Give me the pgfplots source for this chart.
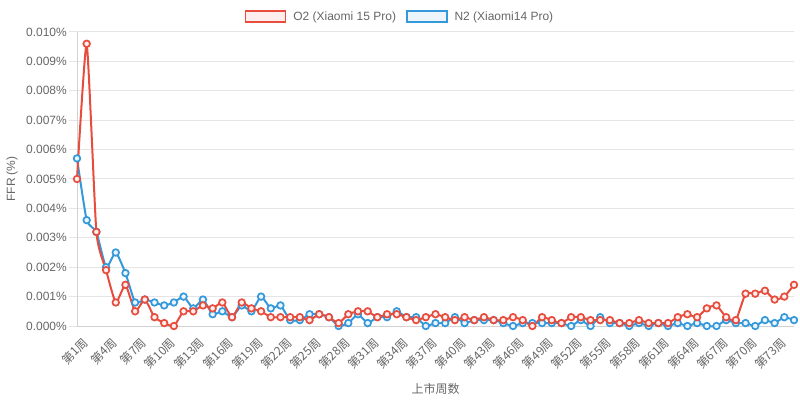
\documentclass[border=0pt]{standalone}
\usepackage{fontspec}
\setmainfont{Liberation Sans}
\newfontfamily\cjk{Noto Sans CJK SC}
\usepackage{pgfplots}
\pgfplotsset{compat=1.18}
\usepackage{pgfplotstable}
\definecolor{cred}{RGB}{231,76,60}
\definecolor{cblue}{RGB}{52,152,219}
\definecolor{predfill}{RGB}{253,237,236}
\definecolor{pbluefill}{RGB}{235,245,251}
\definecolor{gridgray}{RGB}{229,229,229}
\definecolor{axisgray}{RGB}{210,210,210}
\definecolor{txtgray}{RGB}{102,102,102}
\pgfplotstableread{
w o n
1 0.0050 0.0057
2 0.0096 0.0036
3 0.0032 0.0032
4 0.0019 0.0020
5 0.0008 0.0025
6 0.0014 0.0018
7 0.0005 0.0008
8 0.0009 0.0009
9 0.0003 0.0008
10 0.0001 0.0007
11 0.0000 0.0008
12 0.0005 0.0010
13 0.0005 0.0006
14 0.0007 0.0009
15 0.0006 0.0004
16 0.0008 0.0005
17 0.0003 0.0003
18 0.0008 0.0007
19 0.0006 0.0005
20 0.0005 0.0010
21 0.0003 0.0006
22 0.0003 0.0007
23 0.0003 0.0002
24 0.0003 0.0002
25 0.0002 0.0004
26 0.0004 0.0004
27 0.0003 0.0003
28 0.0001 0.0000
29 0.0004 0.0001
30 0.0005 0.0004
31 0.0005 0.0001
32 0.0003 0.0003
33 0.0004 0.0003
34 0.0004 0.0005
35 0.0003 0.0003
36 0.0002 0.0003
37 0.0003 0.0000
38 0.0004 0.0001
39 0.0003 0.0001
40 0.0002 0.0003
41 0.0003 0.0001
42 0.0002 0.0002
43 0.0003 0.0002
44 0.0002 0.0002
45 0.0002 0.0001
46 0.0003 0.0000
47 0.0002 0.0001
48 0.0000 0.0001
49 0.0003 0.0001
50 0.0002 0.0001
51 0.0001 0.0001
52 0.0003 0.0000
53 0.0003 0.0002
54 0.0002 0.0000
55 0.0002 0.0003
56 0.0002 0.0001
57 0.0001 0.0001
58 0.0001 0.0000
59 0.0002 0.0001
60 0.0001 0.0000
61 0.0001 0.0001
62 0.0001 0.0000
63 0.0003 0.0001
64 0.0004 0.0000
65 0.0003 0.0001
66 0.0006 0.0000
67 0.0007 0.0000
68 0.0003 0.0002
69 0.0002 0.0001
70 0.0011 0.0001
71 0.0011 0.0000
72 0.0012 0.0002
73 0.0009 0.0001
74 0.0010 0.0003
75 0.0014 0.0002
}\data
\begin{document}
\begin{tikzpicture}
\useasboundingbox (0,0) rectangle (800bp,401bp);
\begin{axis}[
  at={(77bp,75bp)}, anchor=south west,
  scale only axis, width=717bp, height=294bp,
  xmin=1, xmax=75, ymin=0, ymax=0.010,
  clip=false,
  axis lines=left,
  axis line style={draw=axisgray, line width=1bp, -},
  ymajorgrids, grid style={draw=gridgray, line width=1bp},
  ytick={0,0.001,0.002,0.003,0.004,0.005,0.006,0.007,0.008,0.009,0.010},
  scaled y ticks=false,
  /pgf/number format/assume math mode=true,
  yticklabel={\pgfmathprintnumber[fixed,fixed zerofill,precision=3]{\tick}\%},
  tick align=outside,
  major tick length=8bp,
  ytick style={draw=gridgray, line width=1bp},
  xtick style={draw=none},
  xtick={1,4,7,10,13,16,19,22,25,28,31,34,37,40,43,46,49,52,55,58,61,64,67,70,73},
  xticklabels={第1周,第4周,第7周,第10周,第13周,第16周,第19周,第22周,第25周,第28周,第31周,第34周,第37周,第40周,第43周,第46周,第49周,第52周,第55周,第58周,第61周,第64周,第67周,第70周,第73周},
  xticklabel style={font=\cjk\fontsize{12bp}{14bp}\selectfont, text=txtgray, rotate=45, anchor=north east, inner sep=1bp, xshift=3bp, yshift=-4bp},
  yticklabel style={font=\fontsize{12bp}{14bp}\selectfont, text=txtgray, inner sep=2bp},
  xlabel={上市周数},
  xlabel style={font=\cjk\fontsize{12bp}{14bp}\selectfont, text=txtgray, at={(axis description cs:0.5,-0.2143)}, anchor=center},
  ylabel={FFR (\%)},
  ylabel style={font=\fontsize{12bp}{14bp}\selectfont, text=txtgray, at={(axis description cs:-0.0907,0.5)}, anchor=center},
  legend columns=2,
  reverse legend,
  legend style={draw=none, fill=none, at={(0.4505,1.0527)}, anchor=center,
    font=\fontsize{12bp}{14bp}\selectfont, text=txtgray,
    /tikz/every odd column/.append style={column sep=5bp},
    /tikz/every even column/.append style={column sep=8bp}},
]
\addplot[cblue, line width=2bp, smooth, tension=0.3, mark=*, mark size=3.3bp,
  mark options={draw=cblue, fill=pbluefill, line width=1.7bp},
  legend image code/.code={\draw[draw=cblue, fill=pbluefill, line width=1.5bp] (0bp,-5.5bp) rectangle (40bp,5.5bp);}]
  table[x=w,y=n]{\data};
\addlegendentry{N2 (Xiaomi14 Pro)}
\addplot[cred, line width=2bp, smooth, tension=0.3, mark=*, mark size=3.3bp,
  mark options={draw=cred, fill=predfill, line width=1.7bp},
  legend image code/.code={\draw[draw=cred, fill=predfill, line width=1.5bp] (0bp,-5.5bp) rectangle (40bp,5.5bp);}]
  table[x=w,y=o]{\data};
\addlegendentry{O2 (Xiaomi 15 Pro)}
\end{axis}
\end{tikzpicture}
\end{document}
